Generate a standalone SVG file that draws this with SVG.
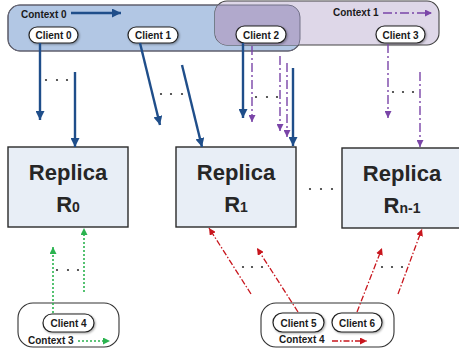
<svg xmlns="http://www.w3.org/2000/svg" width="459" height="356" viewBox="0 0 459 356">
  <defs>
    <style>
      .ctx-label { font-family: "Liberation Sans", Arial, sans-serif; font-weight: bold; font-size: 10px; fill: #1a1a1a; }
      .client rect { fill: #ffffff; stroke: #222222; stroke-width: 1.2; }
      .client text { font-family: "Liberation Sans", Arial, sans-serif; font-weight: bold; font-size: 10px; fill: #1a1a1a; text-anchor: middle; }
      .replica rect { fill: #e8eef6; stroke: #2a2a2a; stroke-width: 1.4; }
      .replica text { font-family: "Liberation Sans", Arial, sans-serif; font-weight: bold; fill: #262626; text-anchor: middle; }
      .big { font-size: 22px; }
      .sub { font-size: 14px; }
      .blue { stroke: #1f4e8a; stroke-width: 2.4; fill: none; marker-end: url(#ahBlue); }
      .purple { stroke: #7a45a8; stroke-width: 1.4; fill: none; stroke-dasharray: 9 3 2 3; marker-end: url(#ahPurple); }
      .green { stroke: #2bb34f; stroke-width: 1.6; fill: none; stroke-dasharray: 2 2; marker-end: url(#ahGreen); }
      .red { stroke: #c8161d; stroke-width: 1.3; fill: none; stroke-dasharray: 6 2 1.5 2; marker-end: url(#ahRed); }
      .dots circle { fill: #333333; }
      .frame { fill: #ffffff; stroke: #333333; stroke-width: 1.1; }
    </style>
    <marker id="ahBlue" viewBox="0 0 10 10" refX="10" refY="5" markerUnits="userSpaceOnUse" markerWidth="9" markerHeight="9" orient="auto">
      <path d="M0,0 L10,5 L0,10 z" fill="#1f4e8a"/>
    </marker>
    <marker id="ahPurple" viewBox="0 0 10 10" refX="10" refY="5" markerUnits="userSpaceOnUse" markerWidth="7" markerHeight="7" orient="auto">
      <path d="M0,0 L10,5 L0,10 z" fill="#7a45a8"/>
    </marker>
    <marker id="ahGreen" viewBox="0 0 10 10" refX="10" refY="5" markerUnits="userSpaceOnUse" markerWidth="7" markerHeight="7" orient="auto">
      <path d="M0,0 L10,5 L0,10 z" fill="#2bb34f"/>
    </marker>
    <marker id="ahRed" viewBox="0 0 10 10" refX="10" refY="5" markerUnits="userSpaceOnUse" markerWidth="7" markerHeight="7" orient="auto">
      <path d="M0,0 L10,5 L0,10 z" fill="#c8161d"/>
    </marker>
    <clipPath id="ctx0Clip">
      <rect x="8" y="5" width="292" height="46" rx="12"/>
    </clipPath>
    <filter id="soft" x="-20%" y="-30%" width="140%" height="160%">
      <feDropShadow dx="1" dy="1" stdDeviation="0.8" flood-color="#000000" flood-opacity="0.35"/>
    </filter>
  </defs>

  <!-- context regions on top -->
  <g id="context0">
    <rect x="8" y="5" width="292" height="46" rx="12" fill="#b2c7e4" stroke="#444444" stroke-width="1.1"/>
    <text class="ctx-label" x="21" y="18">Context 0</text>
  </g>
  <g id="context1">
    <rect x="215" y="1" width="224" height="44" rx="12" fill="#ded7e8" stroke="#444444" stroke-width="1.1"/>
    <rect x="215" y="1" width="224" height="44" rx="12" fill="#b1a9cc" clip-path="url(#ctx0Clip)"/>
    <rect x="8" y="5" width="292" height="46" rx="12" fill="none" stroke="#6a6a80" stroke-width="0.9"/>
    <text class="ctx-label" x="333" y="16">Context 1</text>
  </g>

  <!-- clients -->
  <g id="client0" class="client"><rect x="29" y="27" width="49" height="16" rx="8" filter="url(#soft)"/><text x="53.5" y="39">Client 0</text></g>
  <g id="client1" class="client"><rect x="128" y="27" width="50" height="16" rx="8" filter="url(#soft)"/><text x="153" y="39">Client 1</text></g>
  <g id="client2" class="client"><rect x="236" y="26" width="50" height="17" rx="8.5" filter="url(#soft)"/><text x="261" y="38.5">Client 2</text></g>
  <g id="client3" class="client"><rect x="376" y="26" width="49" height="17" rx="8.5" filter="url(#soft)"/><text x="400.5" y="38.5">Client 3</text></g>

  <!-- replicas -->
  <g id="replica0" class="replica">
    <rect x="8" y="147" width="120" height="80"/>
    <text class="big" x="68" y="180">Replica</text>
    <text x="68" y="212"><tspan class="big">R</tspan><tspan class="sub">0</tspan></text>
  </g>
  <g id="replica1" class="replica">
    <rect x="176" y="147" width="120" height="80"/>
    <text class="big" x="236" y="180">Replica</text>
    <text x="236" y="212"><tspan class="big">R</tspan><tspan class="sub">1</tspan></text>
  </g>
  <g id="replicaN" class="replica">
    <rect x="342" y="148" width="120" height="80"/>
    <text class="big" x="402" y="181">Replica</text>
    <text x="402" y="213"><tspan class="big">R</tspan><tspan class="sub">n-1</tspan></text>
  </g>

  <!-- bottom contexts -->
  <g id="context3">
    <rect class="frame" x="18" y="303" width="101" height="44" rx="15"/>
    <g class="client"><rect x="43" y="314" width="51" height="18" rx="9" filter="url(#soft)"/><text x="68.5" y="327">Client 4</text></g>
    <text class="ctx-label" x="28" y="344">Context 3</text>
  </g>
  <g id="context4">
    <rect class="frame" x="261" y="303" width="133" height="44" rx="15"/>
    <g class="client"><rect x="273" y="313" width="51" height="19" rx="9.5" filter="url(#soft)"/><text x="298.5" y="326.5">Client 5</text></g>
    <g class="client"><rect x="332" y="313" width="50" height="19" rx="9.5" filter="url(#soft)"/><text x="357" y="326.5">Client 6</text></g>
    <text class="ctx-label" x="279" y="343">Context 4</text>
  </g>

  <!-- connectors -->
  <g id="connectors">
    <line class="blue" x1="71" y1="13" x2="121" y2="13"/>
    <line class="purple" x1="383" y1="13" x2="432" y2="13"/>

    <line class="blue" x1="40" y1="43" x2="40" y2="120"/>
    <line class="blue" x1="75" y1="72" x2="75" y2="147"/>
    <line class="blue" x1="140" y1="43" x2="160" y2="125"/>
    <line class="blue" x1="182" y1="65" x2="202" y2="147"/>
    <line class="blue" x1="243" y1="43" x2="243" y2="118"/>
    <line class="blue" x1="293" y1="68" x2="293" y2="146"/>

    <line class="purple" x1="252" y1="46" x2="252" y2="122"/>
    <line class="purple" x1="280" y1="56" x2="280" y2="131"/>
    <line class="purple" x1="287" y1="63" x2="287" y2="137"/>
    <line class="purple" x1="388" y1="44" x2="388" y2="118"/>
    <line class="purple" x1="420" y1="72" x2="420" y2="147"/>

    <line class="green" x1="53" y1="313" x2="53" y2="247"/>
    <line class="green" x1="84" y1="292" x2="84" y2="228"/>
    <line class="green" x1="78" y1="341" x2="110" y2="341"/>

    <line class="red" x1="298" y1="312" x2="257" y2="248"/>
    <line class="red" x1="251" y1="294" x2="209" y2="228"/>
    <line class="red" x1="357" y1="312" x2="382" y2="248"/>
    <line class="red" x1="398" y1="294" x2="422" y2="229"/>
    <line class="red" x1="332" y1="341" x2="367" y2="341"/>

    <g class="dots">
      <circle cx="46" cy="80" r="1.1"/><circle cx="57" cy="80" r="1.1"/><circle cx="67" cy="80" r="1.1"/>
      <circle cx="161" cy="94" r="1.1"/><circle cx="171" cy="94" r="1.1"/><circle cx="182" cy="94" r="1.1"/>
      <circle cx="256" cy="97" r="1.1"/><circle cx="267" cy="97" r="1.1"/><circle cx="277" cy="97" r="1.1"/>
      <circle cx="393" cy="92" r="1.1"/><circle cx="403" cy="92" r="1.1"/><circle cx="413" cy="92" r="1.1"/>
      <circle cx="310" cy="189" r="1.1"/><circle cx="321" cy="189" r="1.1"/><circle cx="332" cy="189" r="1.1"/>
      <circle cx="57" cy="270" r="1.1"/><circle cx="68" cy="270" r="1.1"/><circle cx="78" cy="270" r="1.1"/>
      <circle cx="243" cy="267" r="1.1"/><circle cx="252" cy="267" r="1.1"/><circle cx="262" cy="267" r="1.1"/>
      <circle cx="382" cy="267" r="1.1"/><circle cx="392" cy="267" r="1.1"/><circle cx="402" cy="267" r="1.1"/>
    </g>
  </g>
</svg>
